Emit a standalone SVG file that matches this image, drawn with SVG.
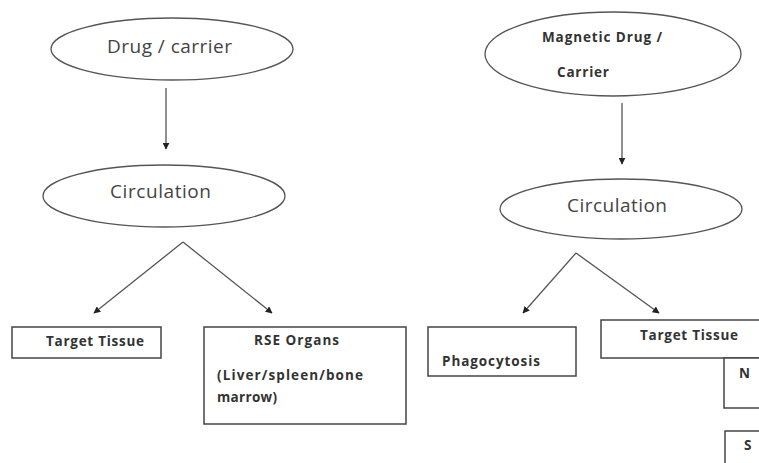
<svg xmlns="http://www.w3.org/2000/svg" width="759" height="463" viewBox="0 0 759 463">
<defs>
<style>
.sh{fill:#fff;stroke:#555;stroke-width:1.3}
.bx{fill:#fff;stroke:#444;stroke-width:1.5}
.t{font-family:"Open Sans","Liberation Sans",sans-serif;fill:#444}
.r{font-size:19px}
.b{font-size:13.5px;font-weight:bold;fill:#333}
.c{stroke:#555;stroke-width:1.3;fill:none;marker-end:url(#ah)}
</style>
<marker id="ah" viewBox="0 0 10 10" refX="9" refY="5" markerWidth="7" markerHeight="7" markerUnits="userSpaceOnUse" orient="auto">
<path d="M0,0 L10,5 L0,10 z" fill="#222"/>
</marker>
</defs>
<rect width="759" height="463" fill="#fff"/>
<g id="connectors">
<line class="c" x1="166" y1="88" x2="166" y2="149"/>
<line class="c" x1="183" y1="242" x2="94" y2="313"/>
<line class="c" x1="183" y1="242" x2="272" y2="313"/>
<line class="c" x1="622" y1="103" x2="622" y2="164"/>
<line class="c" x1="576" y1="253" x2="523" y2="313"/>
<line class="c" x1="576" y1="253" x2="659" y2="313"/>
</g>
<g id="drug-carrier">
<ellipse class="sh" cx="172" cy="49" rx="121" ry="31"/>
<text class="t r" x="107" y="53" textLength="125">Drug / carrier</text>
</g>
<g id="circulation-left">
<ellipse class="sh" cx="164" cy="196" rx="121" ry="31"/>
<text class="t r" x="110" y="198" textLength="101">Circulation</text>
</g>
<g id="target-tissue-left">
<rect class="bx" x="12" y="327" width="149" height="31"/>
<text class="t b" x="46" y="346" textLength="98">Target Tissue</text>
</g>
<g id="rse-organs">
<rect class="bx" x="204" y="327" width="202" height="97"/>
<text class="t b" x="254" y="345" textLength="85">RSE Organs</text>
<text class="t b" x="217" y="380" textLength="146">(Liver/spleen/bone</text>
<text class="t b" x="217" y="402" textLength="60">marrow)</text>
</g>
<g id="magnetic-drug">
<ellipse class="sh" cx="613" cy="54" rx="128" ry="42"/>
<text class="t b" x="542" y="42" textLength="120">Magnetic Drug /</text>
<text class="t b" x="557" y="77" textLength="52">Carrier</text>
</g>
<g id="circulation-right">
<ellipse class="sh" cx="621" cy="209" rx="121" ry="30"/>
<text class="t r" x="567" y="212" textLength="100">Circulation</text>
</g>
<g id="phagocytosis">
<rect class="bx" x="428" y="327" width="148" height="49"/>
<text class="t b" x="442" y="366" textLength="98">Phagocytosis</text>
</g>
<g id="target-tissue-right">
<rect class="bx" x="601" y="320" width="170" height="38"/>
<text class="t b" x="640" y="340" textLength="98">Target Tissue</text>
</g>
<g id="n">
<rect class="bx" x="724" y="358" width="50" height="50"/>
<text class="t b" x="739" y="378">N</text>
</g>
<g id="s">
<rect class="bx" x="725" y="431" width="50" height="50"/>
<text class="t b" x="744" y="450">S</text>
</g>
</svg>
